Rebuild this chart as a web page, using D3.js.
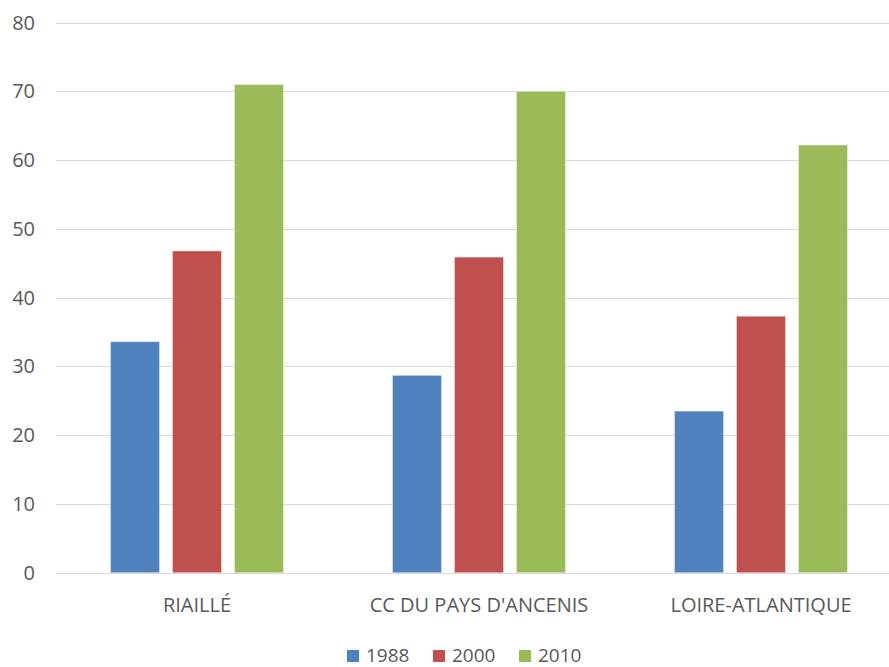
<!DOCTYPE html>
<html><head><meta charset="utf-8">
<script src="https://cdn.jsdelivr.net/npm/d3@7"></script>
<style>body{margin:0;background:#fff}svg{display:block}text{font-family:"Open Sans",sans-serif;fill:#595959}</style>
</head><body><svg id="c" width="889" height="667"></svg>
<script>
const categories = ["RIAILLÉ", "CC DU PAYS D'ANCENIS", "LOIRE-ATLANTIQUE"];
const seriesNames = ["1988", "2000", "2010"];
const v1988 = [33.6, 28.7, 23.5];
const v2000 = [46.8, 45.9, 37.3];
const v2010 = [71, 70, 62.2];
const yTicks = [0, 10, 20, 30, 40, 50, 60, 70, 80];
const colors = ["#4f81bd", "#c0504d", "#9bbb59"];

const series = [v1988, v2000, v2010];
const svg = d3.select("#c");
const x0 = d3.scaleBand().domain(categories).range([56, 902]).padding(0);
const x1 = d3.scaleBand().domain(seriesNames).range([0, x0.bandwidth()]).paddingInner(0.21).paddingOuter(0.88);
const y = d3.scaleLinear().domain([0, 80]).range([572.7, 22.7]);

svg.append("g").selectAll("line").data(yTicks).join("line")
  .attr("x1", 56).attr("x2", 889)
  .attr("y1", d => Math.round(y(d)) + 0.5).attr("y2", d => Math.round(y(d)) + 0.5)
  .attr("stroke", "#d9d9d9").attr("stroke-width", 1);

const yAxis = d3.axisLeft(y).tickValues(yTicks).tickSize(0).tickPadding(0);
const ya = svg.append("g").attr("transform", "translate(35,0)").call(yAxis);
ya.select(".domain").remove();
ya.selectAll("text").attr("font-size", 20).style("fill", "#595959")
  .style("font-family", '"Open Sans",sans-serif');

const groups = svg.append("g").selectAll("g").data(categories).join("g")
  .attr("transform", d => `translate(${x0(d)},0)`);
groups.selectAll("rect").data((c, i) => seriesNames.map((s, j) => ({s, v: series[j][i], j})))
  .join("rect")
  .attr("x", d => x1(d.s)).attr("width", x1.bandwidth())
  .attr("y", d => y(d.v)).attr("height", d => y(0) - y(d.v))
  .attr("fill", d => colors[d.j])
  .attr("stroke", "rgba(255,255,255,0.35)").attr("stroke-width", 1);

svg.append("line").attr("x1", 56).attr("x2", 889).attr("y1", Math.round(y(0)) + 0.5).attr("y2", Math.round(y(0)) + 0.5)
  .attr("stroke", "#d9d9d9");

const xAxis = d3.axisBottom(x0).tickSize(0).tickPadding(0);
const xa = svg.append("g").attr("transform", "translate(0,612)").call(xAxis);
xa.select(".domain").remove();
xa.selectAll("text").attr("font-size", 20).attr("dy", 0).style("fill", "#595959")
  .style("font-family", '"Open Sans",sans-serif');

const legX = [347, 433, 519];
const leg = svg.append("g").selectAll("g").data(seriesNames).join("g")
  .attr("transform", (d, i) => `translate(${legX[i]},650)`);
leg.append("rect").attr("width", 12).attr("height", 12).attr("y", 0).attr("fill", (d, i) => colors[i]);
leg.append("text").attr("x", 19).attr("y", 11.5).attr("font-size", 19).text(d => d);
</script></body></html>
